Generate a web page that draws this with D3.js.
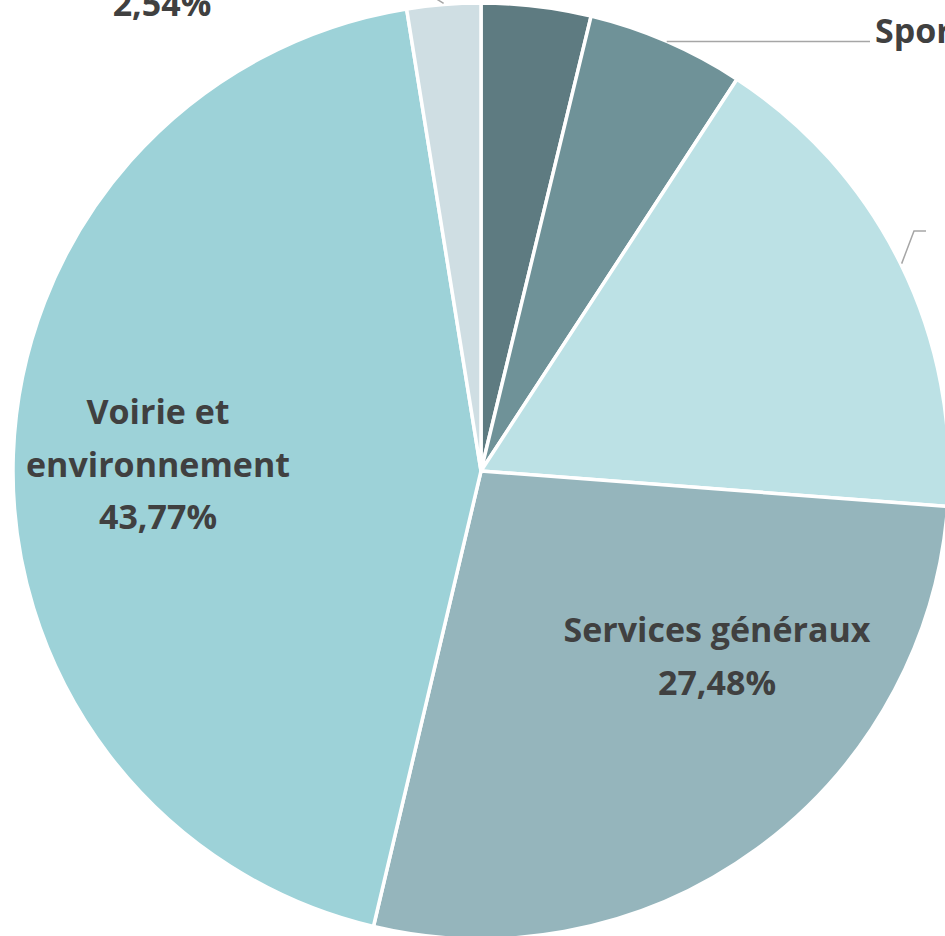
<!DOCTYPE html>
<html><head><meta charset="utf-8">
<script src="https://cdn.jsdelivr.net/npm/d3@7"></script>
<style>html,body{margin:0;padding:0;background:#fff;overflow:hidden}</style>
</head><body>
<svg id="chart" width="945" height="936"></svg>
<script>
const categories = ["Culture", "Sport", "Enseignement", "Services généraux", "Voirie et environnement", "Autres"];
const values = [3.78, 5.43, 17.00, 27.48, 43.77, 2.54];
const colors = ["#5e7b81", "#6f9298", "#bce1e5", "#95b5bc", "#9dd2d8", "#cfdee3"];
const fmt = v => v.toFixed(2).replace(".", ",") + "%";

const svg = d3.select("#chart");
const cx = 481, cy = 471, R = 468;
const g = svg.append("g").attr("transform", `translate(${cx},${cy})`);
const data = categories.map((c, i) => ({name: c, value: values[i], color: colors[i]}));
const pie = d3.pie().sort(null).value(d => d.value).startAngle(0).endAngle(2 * Math.PI);
const arcs = pie(data);
const arc = d3.arc().innerRadius(0).outerRadius(R);

g.selectAll("path.slice").data(arcs).join("path")
  .attr("class", "slice")
  .attr("d", arc)
  .attr("fill", d => d.data.color)
  .attr("stroke", "#fff")
  .attr("stroke-width", 3.5)
  .attr("stroke-linejoin", "round");

const font = "'Open Sans', Lato, sans-serif";
const txtColor = "#404040";
const fs = 34;

function label(lines, x, y, lh, anchor) {
  const t = svg.append("text").attr("text-anchor", anchor || "middle")
    .attr("font-family", font).attr("font-weight", 700).attr("font-size", fs).attr("fill", txtColor);
  lines.forEach((l, k) => t.append("tspan").attr("x", x).attr("y", y + k * lh).text(l));
}
label(["Voirie et", "environnement", fmt(values[4])], 158, 424, 52.5);
label(["Services généraux", fmt(values[3])], 717, 642, 53);

const pt = (a, r) => [Math.sin(a) * r + cx, -Math.cos(a) * r + cy];
function leader(pts) {
  svg.append("polyline").attr("points", pts.map(p => p.join(",")).join(" "))
    .attr("fill", "none").attr("stroke", "#a6a6a6").attr("stroke-width", 1.5);
}
const mid = d => (d.startAngle + d.endAngle) / 2;

// Sport
{
  const p0 = pt(mid(arcs[1]), R);
  leader([p0, [870, p0[1]]]);
  label([categories[1] + " " + fmt(values[1])], 875, p0[1] + 2, 0, "start");
}
// Enseignement (label beyond the right edge)
{
  const p0 = pt(mid(arcs[2]), R + 1);
  leader([p0, [914, 231], [926, 231]]);
  label([categories[2], fmt(values[2])], 952, 222, 52, "start");
}
// Autres (top-left, partly cut)
{
  const p0 = pt(mid(arcs[5]), R + 1);
  leader([p0, [p0[0] - 14, p0[1] - 9]]);
  label([categories[5], fmt(values[5])], 162, -36, 52);
}
// Culture (label above the view)
label([categories[0], fmt(values[0])], 560, -70, 52);
</script>
</body></html>
